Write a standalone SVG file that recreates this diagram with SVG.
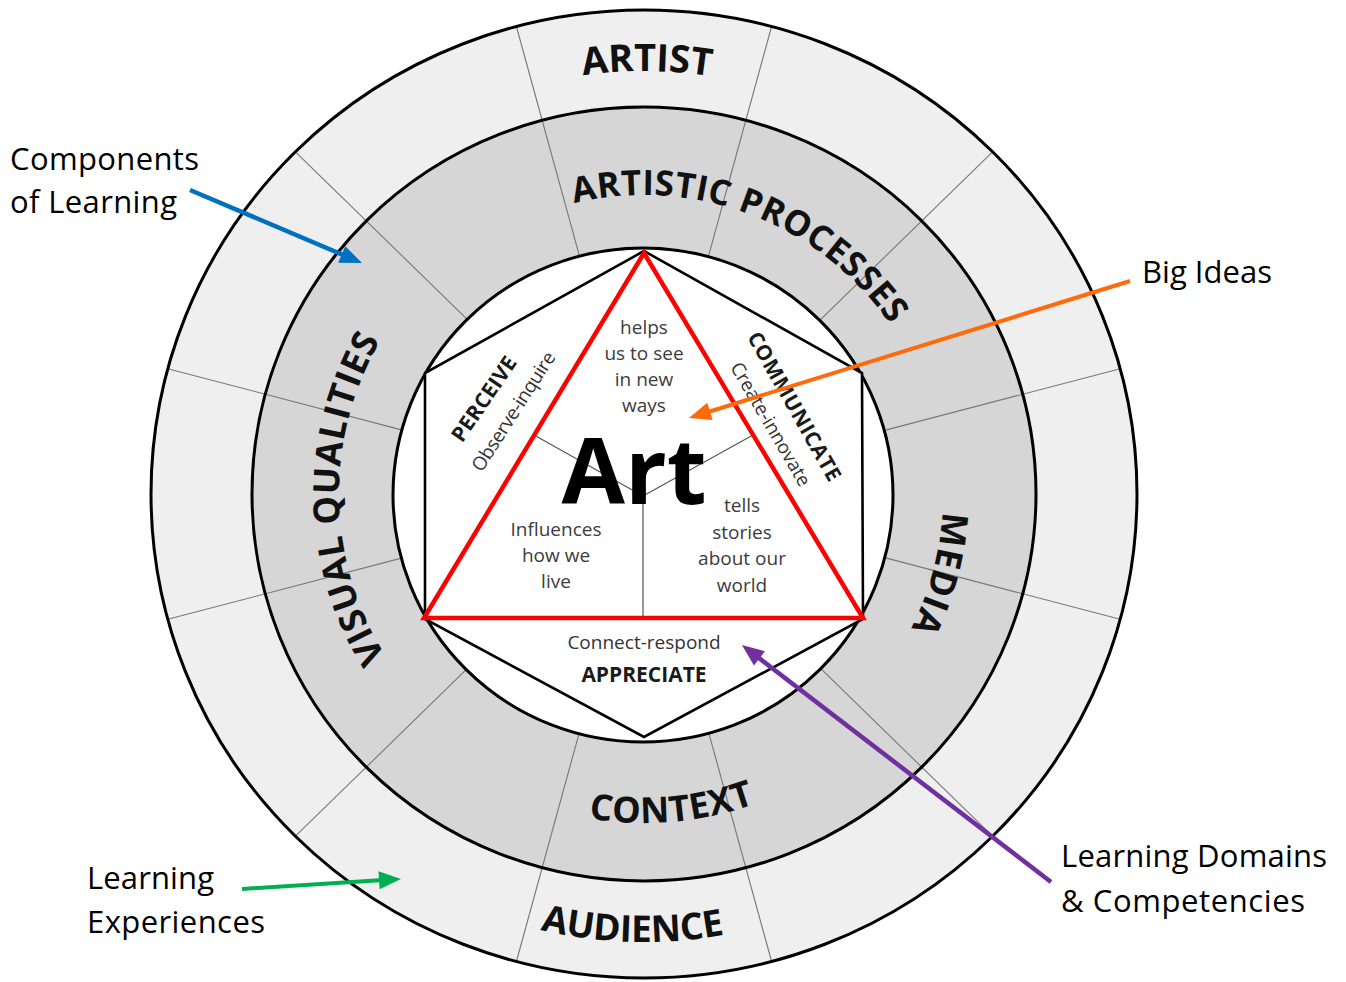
<svg xmlns="http://www.w3.org/2000/svg" width="1346" height="982" viewBox="0 0 1346 982">
<style>
.rs{fill:none;stroke:#000;stroke-width:3}
.rad{stroke:#777;stroke-width:1.1}
.rl{font-family:"Open Sans","DejaVu Sans",sans-serif;font-weight:700;fill:#111;text-anchor:middle}
.note{font-family:"Open Sans","Liberation Sans",sans-serif;font-size:31px;fill:#000}
.inner{font-family:"Open Sans","Liberation Sans",sans-serif;font-size:19px;fill:#3c3c3c;text-anchor:middle}
.dom{font-family:"Open Sans","Liberation Sans",sans-serif;font-weight:700;font-size:21px;fill:#1a1a1a;text-anchor:middle}
.sub{font-family:"Open Sans","Liberation Sans",sans-serif;font-size:19px;fill:#333;text-anchor:middle}
.ylines{stroke:#555;stroke-width:1.2;fill:none}
</style>
<defs>
<path id="p-artist" d="M372.1,170 A423,423 0 0 1 915.9,170"/>
<path id="p-artproc" d="M415.0,301.8 A299,299 0 0 1 942.8,504.4"/>
<path id="p-visual" d="M539.7,780.6 A305,305 0 0 1 529.7,211.2"/>
<path id="p-media" d="M836.2,265.0 A299,299 0 0 1 695.9,788.5"/>
<path id="p-context" d="M359.1,658.5 A329,329 0 0 0 953.2,606.5"/>
<path id="p-audience" d="M250.3,707.8 A448,448 0 0 0 1026.0,728.1"/>
<marker id="mBlue" markerUnits="userSpaceOnUse" markerWidth="24" markerHeight="20" refX="12" refY="9" orient="auto" overflow="visible"><path d="M0,0 L22,9 L0,18 Z" fill="#0070C0"/></marker>
<marker id="mOrange" markerUnits="userSpaceOnUse" markerWidth="24" markerHeight="20" refX="12" refY="9" orient="auto" overflow="visible"><path d="M0,0 L22,9 L0,18 Z" fill="#FF6A0A"/></marker>
<marker id="mPurple" markerUnits="userSpaceOnUse" markerWidth="24" markerHeight="20" refX="12" refY="9" orient="auto" overflow="visible"><path d="M0,0 L22,9 L0,18 Z" fill="#7030A0"/></marker>
<marker id="mGreen" markerUnits="userSpaceOnUse" markerWidth="24" markerHeight="20" refX="12" refY="9" orient="auto" overflow="visible"><path d="M0,0 L22,9 L0,18 Z" fill="#00B050"/></marker>
</defs>
<rect width="1346" height="982" fill="#fff"/>

<g id="ring-fills">
<ellipse cx="644" cy="494" rx="493" ry="484" fill="#efefef"/>
<ellipse cx="644" cy="494" rx="392" ry="387" fill="#d6d6d6"/>
<ellipse cx="643" cy="495" rx="250" ry="247" fill="#fff"/>
</g>

<g id="segment-lines" class="rad">
<line x1="885.5" y1="430.1" x2="1120.2" y2="368.7"/>
<line x1="820.8" y1="319.3" x2="992.6" y2="151.8"/>
<line x1="708.7" y1="255.4" x2="771.6" y2="26.5"/>
<line x1="579.3" y1="255.4" x2="516.4" y2="26.5"/>
<line x1="467.2" y1="319.3" x2="295.4" y2="151.8"/>
<line x1="402.5" y1="430.1" x2="167.8" y2="368.7"/>
<line x1="402.5" y1="557.9" x2="167.8" y2="619.3"/>
<line x1="467.2" y1="668.7" x2="295.4" y2="836.2"/>
<line x1="579.3" y1="732.6" x2="516.4" y2="961.5"/>
<line x1="708.7" y1="732.6" x2="771.6" y2="961.5"/>
<line x1="820.8" y1="668.7" x2="992.6" y2="836.2"/>
<line x1="885.5" y1="557.9" x2="1120.2" y2="619.3"/>
</g>

<g id="ring-strokes">
<ellipse class="rs" cx="644" cy="494" rx="493" ry="484"/>
<ellipse class="rs" cx="644" cy="494" rx="392" ry="387"/>
<ellipse class="rs" cx="643" cy="495" rx="250" ry="247"/>
</g>

<g id="node-artist"><text class="rl" font-size="38"><textPath href="#p-artist" startOffset="50.5%" textLength="128">ARTIST</textPath></text></g>
<g id="node-audience"><text class="rl" font-size="37"><textPath href="#p-audience" startOffset="50%" textLength="186">AUDIENCE</textPath></text></g>
<g id="node-artistic-processes"><text class="rl" font-size="35"><textPath href="#p-artproc" startOffset="50%" textLength="360">ARTISTIC PROCESSES</textPath></text></g>
<g id="node-visual-qualities"><text class="rl" font-size="36"><textPath href="#p-visual" startOffset="50%" textLength="332">VISUAL QUALITIES</textPath></text></g>
<g id="node-media"><text class="rl" font-size="36"><textPath href="#p-media" startOffset="50%" textLength="122">MEDIA</textPath></text></g>
<g id="node-context"><text class="rl" font-size="36"><textPath href="#p-context" startOffset="50%" textLength="169">CONTEXT</textPath></text></g>

<g id="node-hexagon">
<polygon points="644,251 425,373 425,619 644,737 863,619 862,373" fill="#fff" stroke="#000" stroke-width="2.6" stroke-linejoin="miter"/>
</g>

<g id="node-perceive">
<text class="dom" transform="translate(490,403) rotate(-55.5)" textLength="98">PERCEIVE</text>
<text class="sub" transform="translate(519,415) rotate(-57.3)" textLength="138">Observe-inquire</text>
</g>
<g id="node-communicate">
<text class="dom" transform="translate(788,410) rotate(60.5)" textLength="168">COMMUNICATE</text>
<text class="sub" transform="translate(765,427.5) rotate(59.8)" textLength="140">Create-innovate</text>
</g>
<g id="node-appreciate">
<text class="sub" x="644" y="649">Connect-respond</text>
<text class="dom" x="644" y="682" font-size="22">APPRECIATE</text>
</g>

<g id="node-art">
<path class="ylines" d="M643,496 L534,435 M643,496 L753,435 M643,496 L643,618"/>
<polygon points="644,253 424,618 863,618" fill="none" stroke="#ff0000" stroke-width="4.5" stroke-linejoin="miter"/>
<text x="634" y="504" font-family="'Open Sans','Liberation Sans',sans-serif" font-weight="700" font-size="92" text-anchor="middle" fill="#000">Art</text>
<text class="inner" x="644" y="334">helps</text>
<text class="inner" x="644" y="360">us to see</text>
<text class="inner" x="644" y="386">in new</text>
<text class="inner" x="644" y="412">ways</text>
<text class="inner" x="556" y="536">Influences</text>
<text class="inner" x="556" y="562">how we</text>
<text class="inner" x="556" y="588">live</text>
<text class="inner" x="742" y="512">tells</text>
<text class="inner" x="742" y="539">stories</text>
<text class="inner" x="742" y="565">about our</text>
<text class="inner" x="742" y="592">world</text>
</g>

<g id="label-components"><text class="note" x="10" y="170" textLength="189">Components</text><text class="note" x="10" y="213" textLength="167">of Learning</text></g>
<g id="label-big-ideas"><text class="note" x="1142" y="283" textLength="130">Big Ideas</text></g>
<g id="label-learning-experiences"><text class="note" x="87" y="889" textLength="127">Learning</text><text class="note" x="87" y="933" textLength="178">Experiences</text></g>
<g id="label-domains"><text class="note" x="1061" y="867" textLength="266">Learning Domains</text><text class="note" x="1061" y="912" textLength="244">&amp; Competencies</text></g>

<g id="connectors" fill="none">
<line x1="190" y1="190" x2="352.8" y2="259.1" stroke="#0070C0" stroke-width="4.5" marker-end="url(#mBlue)"/>
<line x1="1130" y1="281" x2="698.5" y2="415" stroke="#FF6A0A" stroke-width="4" marker-end="url(#mOrange)"/>
<line x1="1051" y1="882" x2="749.9" y2="651.1" stroke="#7030A0" stroke-width="4.5" marker-end="url(#mPurple)"/>
<line x1="242" y1="889" x2="391" y2="879.6" stroke="#00B050" stroke-width="4" marker-end="url(#mGreen)"/>
</g>
</svg>
